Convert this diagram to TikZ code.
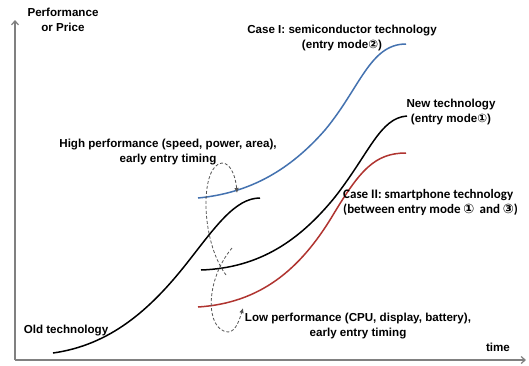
\documentclass[tikz,border=0pt]{standalone}
\usepackage{fontspec}
\setmainfont{Liberation Sans}
\newfontfamily\symf{DejaVu Sans}
\newfontfamily\calf{Carlito}
\usetikzlibrary{arrows.meta}
\definecolor{caseblue}{RGB}{68,114,176}
\definecolor{casered}{RGB}{176,52,48}
\definecolor{axisgray}{RGB}{128,128,128}
\definecolor{dashgray}{RGB}{85,85,85}
\tikzset{
  lbl/.style={font=\fontsize{11.6}{15}\selectfont\bfseries, align=center, inner sep=0pt},
  lblc/.style={font=\calf\fontsize{13}{15}\selectfont\bfseries, align=left, inner sep=0pt},
  axisline/.style={draw=axisgray, line width=1.2pt, -{Straight Barb[length=4pt,width=7pt]}},
  curve/.style={line width=1.5pt},
  loop/.style={draw=dashgray, line width=0.8pt, dash pattern=on 3pt off 2pt, -{Latex[length=5pt,width=4.5pt]}}
}
\newcommand{\cn}[1]{{\symf\bfseries #1}}
\begin{document}
\begin{tikzpicture}[x=1pt, y=-1pt]
\fill[white] (0,0) rectangle (529,365);
\useasboundingbox (0,0) rectangle (529,365);
% axes
\coordinate (o) at (15,360);
\coordinate (ytop) at (15,20);
\coordinate (xend) at (526,360);
\draw[axisline] (o) -- (ytop);
\draw[axisline] (o) -- (xend);
% curves
\draw[curve, black] (53,353) .. controls (110,345) and (150,310) .. (187,263)
  .. controls (215,227.4) and (235,198) .. (260,198);
\draw[curve, caseblue] (198,198) .. controls (250,193) and (290,170) .. (325,130)
  .. controls (360,88) and (370,44) .. (406,44);
\draw[curve, black] (201,270) .. controls (260,268) and (300,240) .. (335,197)
  .. controls (370,152) and (380,118) .. (407,116);
\draw[curve, casered] (198,307) .. controls (260,303) and (300,270) .. (333,215)
  .. controls (360,170) and (375,153) .. (406,153);
% dashed loops
\draw[loop] (226,275) .. controls (200,240) and (200,165) .. (222,163)
  .. controls (232,163) and (236,180) .. (237,193);
\draw[loop] (232,248) .. controls (205,280) and (205,330) .. (228,332)
  .. controls (236,332) and (240,318) .. (243,308);
% labels
\node[lbl] (ylab) at (63,20) {Performance\\or Price};
\node[lbl] (case1) at (342,37.5) {Case I: semiconductor technology\\(entry mode\cn{②})};
\node[lbl] (newtech) at (451,112) {New technology\\(entry mode\cn{①})};
\node[lbl] (high) at (168,152.5) {High performance (speed, power, area),\\early entry timing};
\node[lblc, anchor=west] (case2) at (343,202.5) {Case II: smartphone technology\\(between entry mode \cn{①}\, and \cn{③})};
\node[lbl] (low) at (358,326.5) {Low performance (CPU, display, battery),\\early entry timing};
\node[lbl] (old) at (66,331) {Old technology};
\node[lbl] (time) at (498,347) {time};
\end{tikzpicture}
\end{document}
